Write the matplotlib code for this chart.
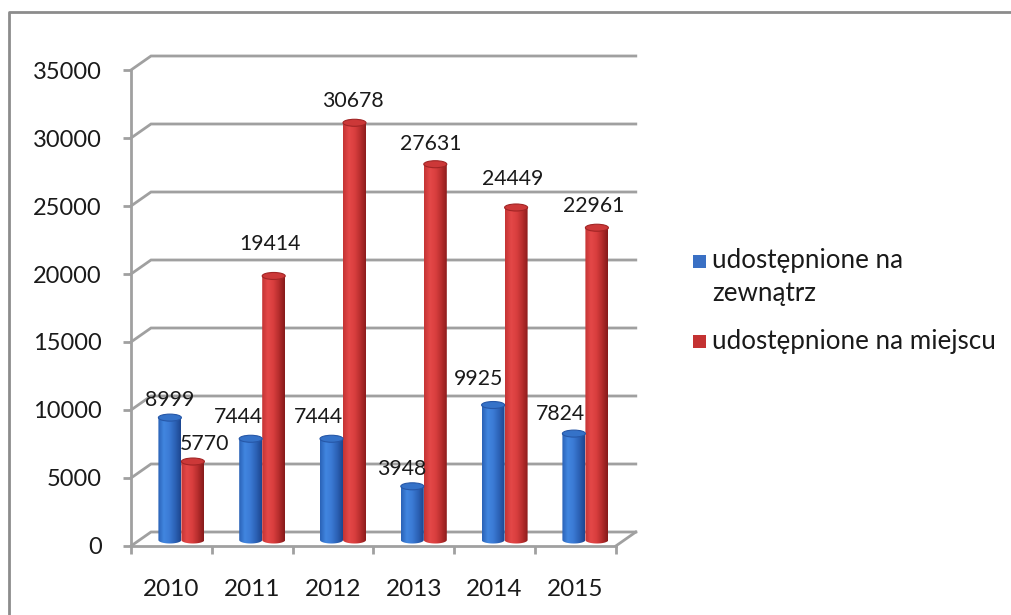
import numpy as np
import matplotlib
matplotlib.use('Agg')
import matplotlib.pyplot as plt
from matplotlib.patches import Polygon, Ellipse, Rectangle
from matplotlib.colors import LinearSegmentedColormap
from matplotlib.lines import Line2D

plt.rcParams['font.family'] = ['Lato', 'DejaVu Sans']

years = ['2010', '2011', '2012', '2013', '2014', '2015']
outside = [8999, 7444, 7444, 3948, 9925, 7824]
onsite = [5770, 19414, 30678, 27631, 24449, 22961]
series_names = ['udostępnione na\nzewnątrz', 'udostępnione na miejscu']
yticks = list(range(0, 35001, 5000))

# label nudges (pixels) so they sit like in the original
nudge_out = [(0, 0), (-12, 4), (-13, 4), (-11, 0), (-15, 9), (-13, 2)]
nudge_on = [(12, 0), (-4, 14), (-2, 4), (-5, 3), (-3, 11), (-3, 4)]

W, H, DPI = 1012, 615, 100
fig = plt.figure(figsize=(W / DPI, H / DPI), dpi=DPI)

# axes placed in pixel terms: x=-0.5 at px 131, 80.8 px per category
px_x = 80.8
px_y = 68 / 5000
left_px, bottom_px, top_px = 131, 546, 40
xmin, xmax = -0.5, 6.0
ymax = (bottom_px - top_px) / px_y
ax = fig.add_axes([left_px / W, (H - bottom_px) / H,
                   (xmax - xmin) * px_x / W, (bottom_px - top_px) / H])
ax.set_xlim(xmin, xmax)
ax.set_ylim(0, ymax)

grey = '#a0a0a0'
txt = '#1a1a1a'
dx = 20 / px_x          # depth offset of back wall
dy = 14 / px_y
bx = 10 / px_x          # depth offset of bar plane
by = 6 / px_y
bw = 23 / px_x          # bar width
eh = 7 / px_y           # ellipse height

# back wall gridlines
for v in yticks:
    ax.plot([-0.5, -0.5 + dx, 5.5 + dx], [v, v + dy, v + dy], color=grey,
            lw=2, solid_joinstyle='miter', zorder=1, clip_on=False)
# floor right edge
ax.plot([5.5, 5.5 + dx], [0, dy], color=grey, lw=2, zorder=1, clip_on=False)

for s in ['top', 'right']:
    ax.spines[s].set_visible(False)
ax.spines['left'].set_bounds(0, 35000)
ax.spines['bottom'].set_bounds(-0.5, 5.5)
for s in ['left', 'bottom']:
    ax.spines[s].set_color(grey)
    ax.spines[s].set_linewidth(2)
    ax.spines[s].set_zorder(1)

ax.set_yticks(yticks)
ax.set_yticklabels([str(v) for v in yticks])
ax.tick_params(axis='y', length=6, width=2, color=grey, pad=15,
               labelsize=17, labelcolor=txt)
ax.set_xticks(range(len(years)))
ax.set_xticklabels(years)
ax.set_xticks(np.arange(-0.5, 5.6, 1), minor=True)
ax.tick_params(axis='x', which='major', length=0, pad=24,
               labelsize=17.5, labelcolor=txt)
ax.tick_params(axis='x', which='minor', length=6, width=2, color=grey)

blue_cm = LinearSegmentedColormap.from_list(
    'b', ['#2a62b6', '#4186e0', '#3b7ad4', '#2c62b6', '#1d4690'])
red_cm = LinearSegmentedColormap.from_list(
    'r', ['#c43434', '#e44848', '#d83e3e', '#b42c2c', '#861a1a'])
grad = np.linspace(0, 1, 64).reshape(1, -1)


def cylinder(xc, val, cmap, topc):
    x0, x1 = xc - bw / 2, xc + bw / 2
    yb, yt = by, by + val
    t = np.linspace(np.pi, 2 * np.pi, 40)
    bottom = np.column_stack([xc + bw / 2 * np.cos(t), yb + eh / 2 * np.sin(t)])
    pts = np.vstack([[[x0, yt]], bottom, [[x1, yt]]])
    clip = Polygon(pts, closed=True, transform=ax.transData, facecolor='none',
                   edgecolor='none')
    ax.add_patch(clip)
    im = ax.imshow(grad, cmap=cmap, aspect='auto', extent=(x0, x1, yb - eh, yt),
                   zorder=3, interpolation='bilinear')
    im.set_clip_path(clip)
    ax.add_patch(Ellipse((xc, yt), bw, eh, facecolor=topc,
                         edgecolor=cmap(0.85), lw=0.8, zorder=4))


for i in range(len(years)):
    cb = i + bx - bw / 2
    cr = i + bx + bw / 2
    cylinder(cb, outside[i], blue_cm, '#3572c8')
    cylinder(cr, onsite[i], red_cm, '#cc3838')
    for xc, v, (ox, oy) in [(cb, outside[i], nudge_out[i]),
                            (cr, onsite[i], nudge_on[i])]:
        ax.annotate(str(v), (xc, by + v + eh / 2), xytext=(ox, 4 + oy),
                    textcoords='offset pixels', ha='center', va='bottom',
                    fontsize=15.3, color=txt, zorder=6)

ax.set_xlim(xmin, xmax)
ax.set_ylim(0, ymax)

# legend
def fx(p):
    return p / W


def fy(p):
    return 1 - p / H


fig.patches.append(Rectangle((fx(693), fy(268)), 13 / W, 13 / H,
                             transform=fig.transFigure, facecolor='#3a70c4',
                             edgecolor='none'))
fig.patches.append(Rectangle((fx(693), fy(348)), 13 / W, 13 / H,
                             transform=fig.transFigure, facecolor='#c43232',
                             edgecolor='none'))
fig.text(fx(712), fy(261), 'udostępnione na', fontsize=18.7, va='center',
         color=txt)
fig.text(fx(712), fy(294), 'zewnątrz', fontsize=18.7, va='center',
         color=txt)
fig.text(fx(712), fy(341), series_names[1], fontsize=18.7, va='center',
         color=txt)

# chart frame (left and top edges visible)
fig.lines.append(Line2D([fx(8.5), fx(8.5), 1], [0, fy(12), fy(12)],
                        transform=fig.transFigure, color='#8c8c8c', lw=2))

fig.savefig('out.png', dpi=DPI)
